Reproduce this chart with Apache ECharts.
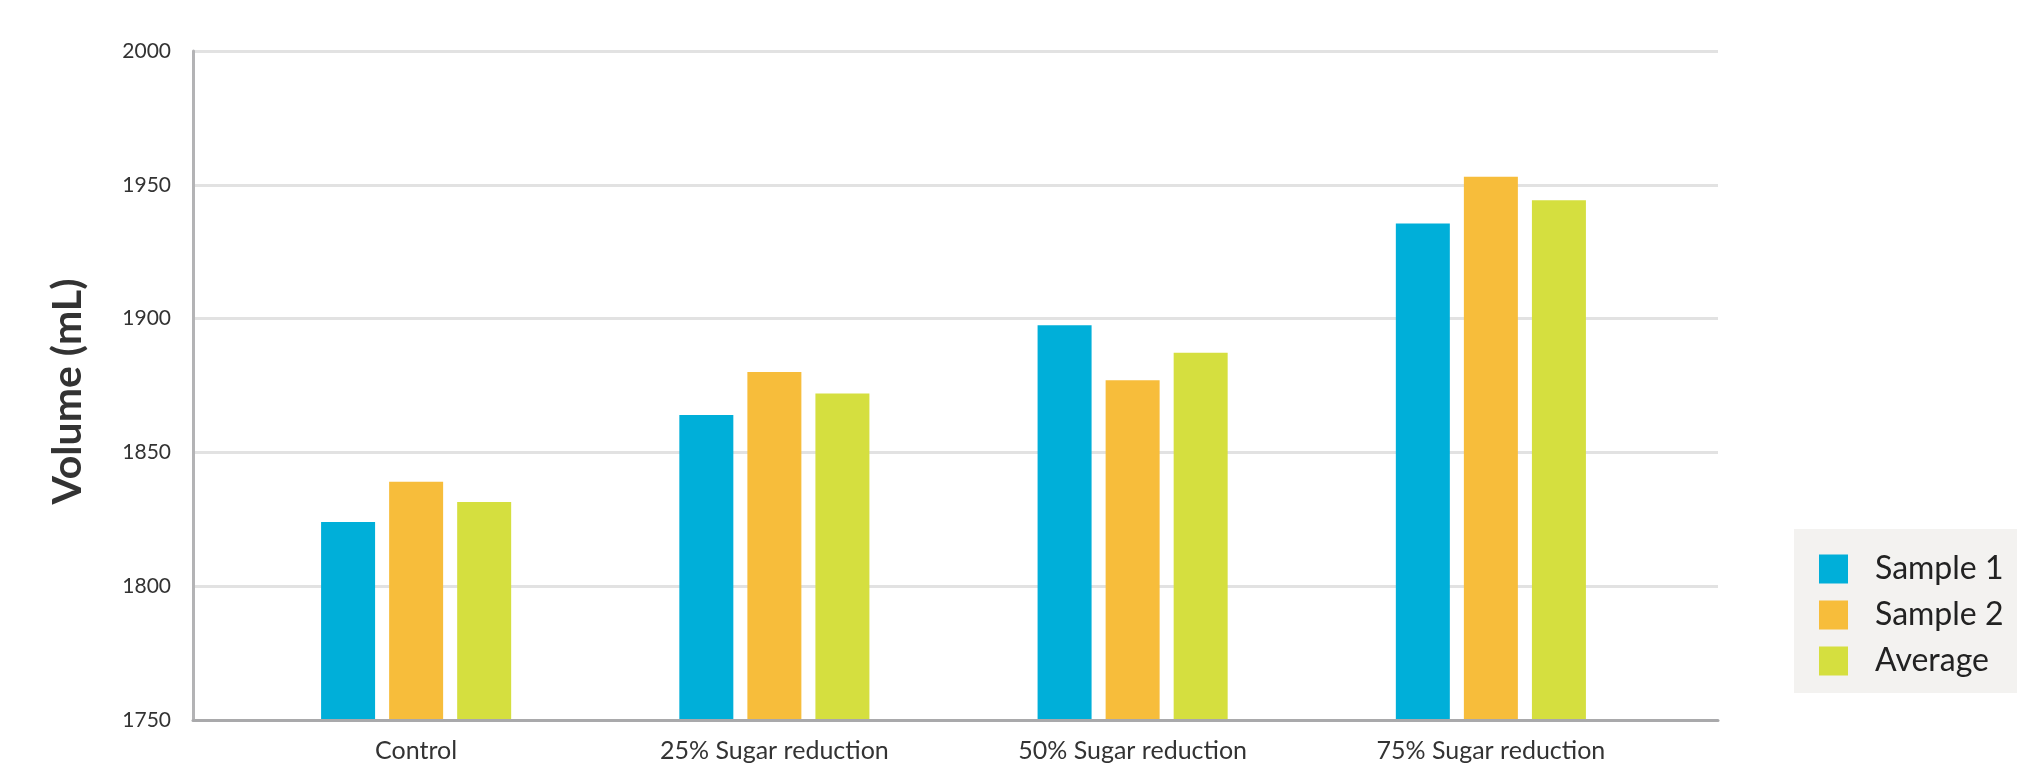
<!DOCTYPE html>
<html>
<head>
<meta charset="utf-8">
<script src="https://cdn.jsdelivr.net/npm/echarts@6/dist/echarts.min.js"></script>
<style>
  html, body { margin: 0; padding: 0; background: #ffffff; }
  #chart { width: 2017px; height: 764px; }
</style>
</head>
<body>
<div id="chart"></div>
<script>
// Loaf volume per recipe variant
const categories = ['Control', '25% Sugar reduction', '50% Sugar reduction', '75% Sugar reduction'];
const sample1 = [1824, 1864, 1897.5, 1935.5];
const sample2 = [1839, 1880, 1877, 1953];
const average = [1831.5, 1872, 1887.25, 1944.25];
const seriesNames = ['Sample 1', 'Sample 2', 'Average'];
const yTicks = { min: 1750, max: 2000, interval: 50 };

const colors = ['#00afd9', '#f7bd3b', '#d5df3f'];
const font = 'Lato, "Open Sans", sans-serif';

const chart = echarts.init(document.getElementById('chart'));

function barSeries(name, data) {
  return {
    name: name,
    type: 'bar',
    xAxisIndex: 1,
    yAxisIndex: 1,
    data: data,
    barWidth: 54,
    barGap: '26%',
    itemStyle: { borderWidth: 0 }
  };
}

chart.setOption({
  animation: false,
  color: colors,
  textStyle: { fontFamily: font },
  graphic: [{
    type: 'rect',
    left: 1794,
    top: 529,
    shape: { width: 223, height: 164 },
    style: { fill: '#f3f2f0' },
    z: 0
  }],
  legend: {
    orient: 'vertical',
    left: 1819,
    top: 553,
    padding: 0,
    icon: 'rect',
    itemWidth: 29,
    itemHeight: 29,
    itemGap: 14,
    data: seriesNames,
    textStyle: { fontSize: 32, color: '#222222', fontFamily: font, padding: [0, 0, 0, 22] }
  },
  grid: [
    // frame: axes and gridlines
    { left: 193, right: 299, top: 51, bottom: 44 },
    // bars and category labels
    { left: 237, right: 347, top: 51, bottom: 44 }
  ],
  xAxis: [
    {
      gridIndex: 0,
      type: 'value',
      min: 0,
      max: 1,
      z: 5,
      axisLine: { show: true, lineStyle: { color: '#a9a9ab', width: 3 } },
      axisTick: { show: false },
      axisLabel: { show: false },
      splitLine: { show: false }
    },
    {
      gridIndex: 1,
      type: 'category',
      data: categories,
      axisLine: { show: false },
      axisTick: { show: false },
      axisLabel: { fontSize: 25, color: '#333333', margin: 18, fontFamily: font }
    }
  ],
  yAxis: [
    {
      gridIndex: 0,
      type: 'value',
      min: yTicks.min,
      max: yTicks.max,
      interval: yTicks.interval,
      name: 'Volume (mL)',
      nameLocation: 'middle',
      nameGap: 105,
      nameRotate: 90,
      nameTextStyle: {
        fontSize: 41,
        fontWeight: 'bold',
        color: '#333333',
        fontFamily: font,
        padding: [0, 12, 0, 0]
      },
      axisLine: { show: true, lineStyle: { color: '#b3b3b5', width: 3 } },
      axisTick: { show: false },
      axisLabel: {
        fontSize: 21,
        color: '#333333',
        margin: 22,
        fontFamily: font,
        formatter: function (v) { return String(v); }
      },
      splitLine: { show: true, lineStyle: { color: '#e2e2e2', width: 3 } }
    },
    {
      gridIndex: 1,
      type: 'value',
      min: yTicks.min,
      max: yTicks.max,
      interval: yTicks.interval,
      show: false,
      splitLine: { show: false }
    }
  ],
  series: [
    barSeries(seriesNames[0], sample1),
    barSeries(seriesNames[1], sample2),
    barSeries(seriesNames[2], average)
  ]
});
</script>
</body>
</html>
